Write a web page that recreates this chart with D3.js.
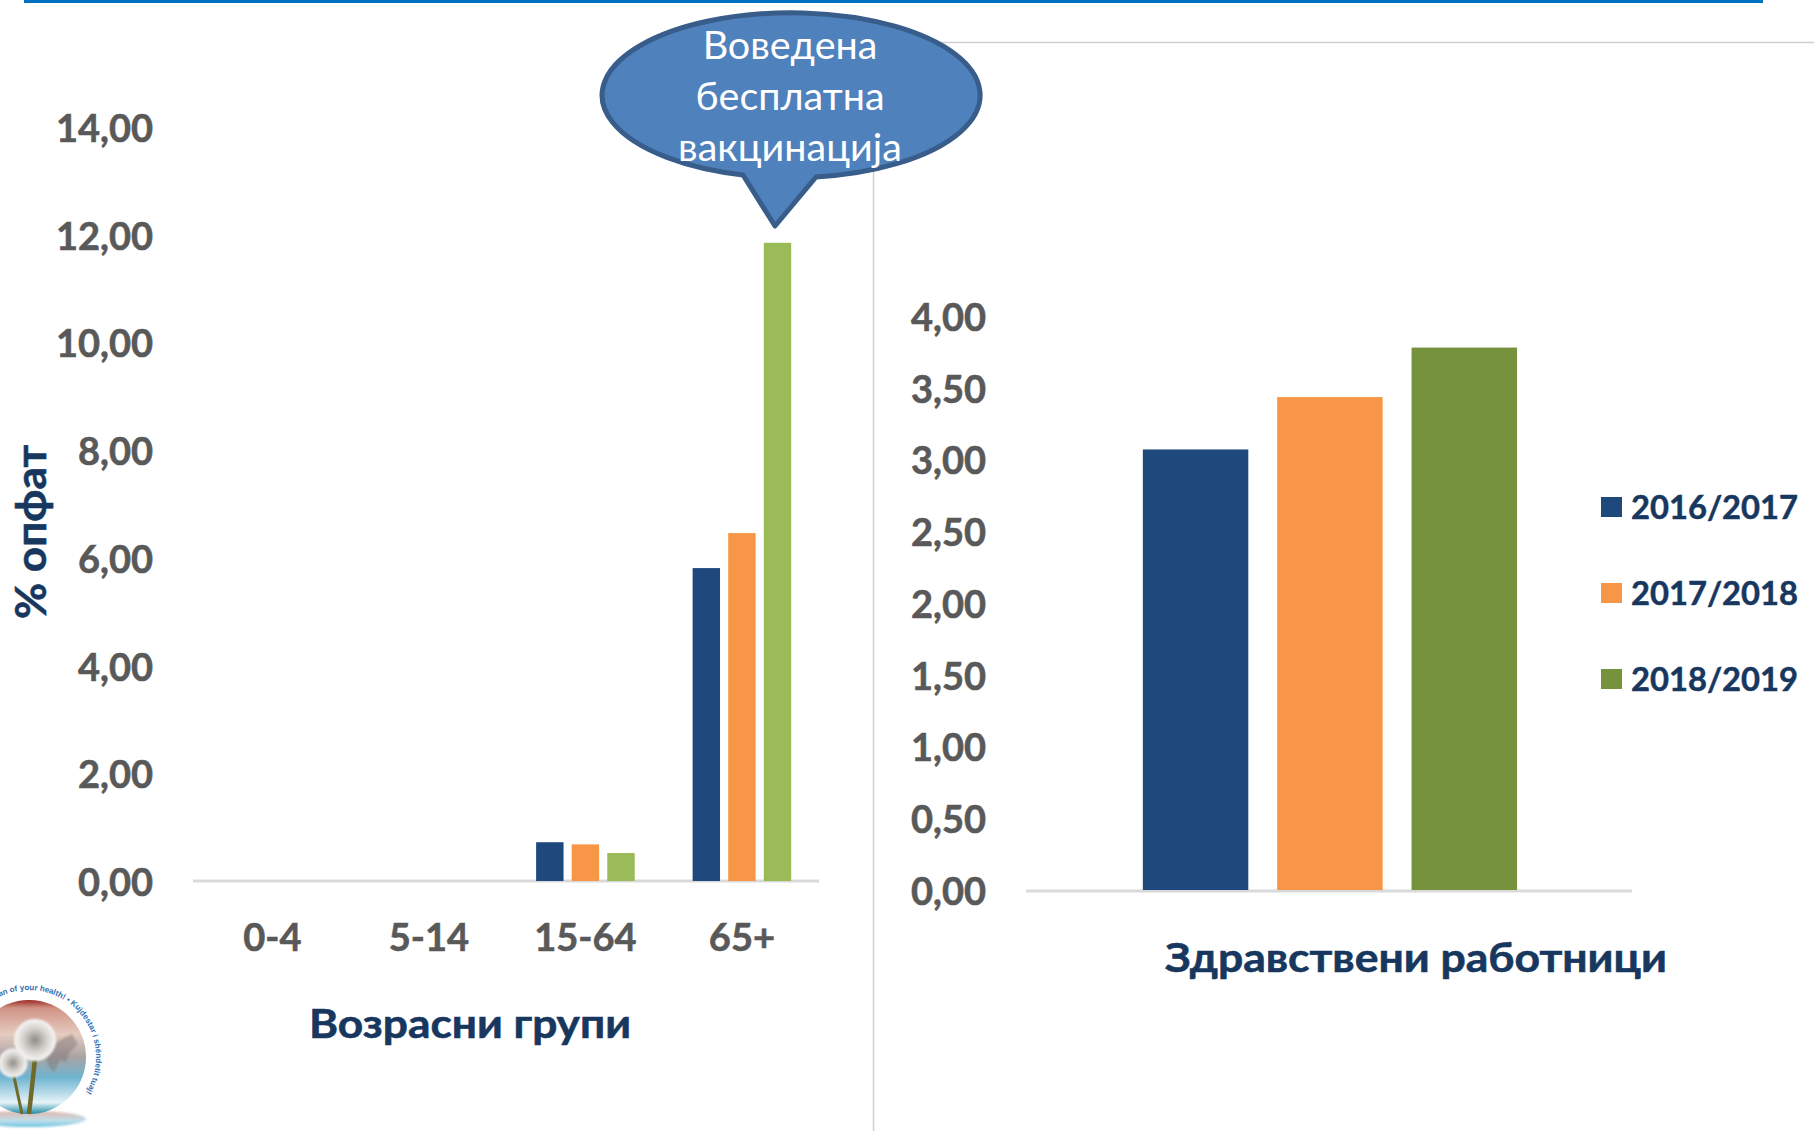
<!DOCTYPE html>
<html>
<head>
<meta charset="utf-8">
<title>Опфат со вакцинација</title>
<script src="https://cdn.jsdelivr.net/npm/d3@7"></script>
<style>
  html, body { margin: 0; padding: 0; background: #fff; }
  svg { display: block; }
  text { font-family: Lato, "Noto Sans", sans-serif; }
  .tick text { font-weight: 700; fill: #595959; font-size: 38px; stroke: #595959; stroke-width: 0.6px; }
  .axis-title { font-weight: 700; fill: #17375e; stroke: #17375e; stroke-width: 0.6px; }
  .legend-label { font-weight: 700; fill: #17375e; font-size: 33px; stroke: #17375e; stroke-width: 0.5px; }
  .callout-text { fill: #fff; font-size: 39.5px; text-anchor: middle; }
</style>
</head>
<body>
<svg id="chart" width="1814" height="1131"></svg>
<script>
  const SEASONS = ['2016/2017', '2017/2018', '2018/2019'];
  const AGE_GROUPS = ['0-4', '5-14', '15-64', '65+'];
  const AGE_2016 = [0, 0, 0.72, 5.81];
  const AGE_2017 = [0, 0, 0.68, 6.46];
  const AGE_2018 = [0, 0, 0.52, 11.85];
  const AGE_TICKS = [0, 2, 4, 6, 8, 10, 12, 14];
  const WORKER_GROUPS = ['Здравствени работници'];
  const WORKER_VALUES = [3.07, 3.435, 3.78];
  const WORKER_TICKS = [0, 0.5, 1, 1.5, 2, 2.5, 3, 3.5, 4];
  const CALLOUT_LINES = ['Воведена', 'бесплатна', 'вакцинација'];

  const AGE_COLORS = ['#1f497d', '#f79646', '#9bbb59'];
  const WORKER_COLORS = ['#1f497d', '#f79646', '#76923c'];
  const RULE_COLOR = '#d0d0d0';

  var svg = d3.select('#chart');
  var defs = svg.append('defs');
  var formatTick = function (v) { return d3.format('.2f')(v).replace('.', ','); };

  function drawFrame () {
    svg.append('rect').attr('x', 24).attr('y', 0).attr('width', 1739).attr('height', 3).attr('fill', '#0070c0');
    svg.append('line').attr('x1', 900).attr('x2', 1814).attr('y1', 42.5).attr('y2', 42.5)
      .attr('stroke', RULE_COLOR).attr('stroke-width', 1.5);
    svg.append('line').attr('x1', 873.5).attr('x2', 873.5).attr('y1', 150).attr('y2', 1131)
      .attr('stroke', RULE_COLOR).attr('stroke-width', 1.5);
  }

  function drawAxes (xAxisScale, yScale, ticks, baseline, showLabels) {
    var left = xAxisScale.range()[0];
    var right = xAxisScale.range()[1];
    svg.append('g')
      .attr('transform', 'translate(' + left + ',0)')
      .call(d3.axisLeft(yScale).tickValues(ticks).tickFormat(formatTick).tickSize(0).tickPadding(40))
      .call(function (g) {
        g.select('.domain').remove();
        g.selectAll('text').attr('dy', '0.38em');
      });
    var xAxis = d3.axisBottom(xAxisScale).tickSize(0).tickPadding(43);
    if (!showLabels) xAxis.tickFormat('');
    svg.append('g')
      .attr('transform', 'translate(0,' + baseline + ')')
      .call(xAxis)
      .call(function (g) {
        g.select('.domain').remove();
      });
    svg.append('line').attr('x1', left).attr('x2', right).attr('y1', baseline).attr('y2', baseline)
      .attr('stroke', '#d9d9d9').attr('stroke-width', 3);
  }

  function drawAgeChart () {
    const baseline = 881;
    var x0 = d3.scaleBand().domain(AGE_GROUPS).range([193, 819]).paddingInner(0.37).paddingOuter(0.185).align(0.52);
    var x1 = d3.scaleBand().domain(SEASONS).range([0, x0.bandwidth()]).paddingInner(0.229);
    var y = d3.scaleLinear().domain([0, 14]).range([baseline, 127]);
    drawAxes(x0, y, AGE_TICKS, baseline, true);

    [AGE_2016, AGE_2017, AGE_2018].forEach(function (values, s) {
      svg.append('g').selectAll('rect')
        .data(values)
        .join('rect')
        .attr('x', function (d, i) { return x0(AGE_GROUPS[i]) + x1(SEASONS[s]); })
        .attr('y', function (d) { return y(d); })
        .attr('width', x1.bandwidth())
        .attr('height', function (d) { return baseline - y(d); })
        .attr('fill', AGE_COLORS[s]);
    });

    svg.append('text').attr('class', 'axis-title')
      .attr('x', 470).attr('y', 1038)
      .attr('text-anchor', 'middle').attr('font-size', 41)
      .attr('textLength', 322).attr('lengthAdjust', 'spacingAndGlyphs')
      .text('Возрасни групи');
    svg.append('text').attr('class', 'axis-title')
      .attr('transform', 'translate(46,532) rotate(-90)')
      .attr('text-anchor', 'middle').attr('font-size', 42)
      .attr('textLength', 174).attr('lengthAdjust', 'spacingAndGlyphs')
      .text('% опфат');
  }

  function drawWorkerChart () {
    const baseline = 891;
    var x0 = d3.scaleBand().domain(WORKER_GROUPS).range([1026, 1632]).padding(0.2365).align(0.504);
    var x1 = d3.scaleBand().domain(SEASONS).range([0, x0.bandwidth()]).paddingInner(0.215);
    var y = d3.scaleLinear().domain([0, 4]).range([890, 316]);
    drawAxes(x0, y, WORKER_TICKS, baseline, false);

    svg.append('g').selectAll('rect')
      .data(WORKER_VALUES)
      .join('rect')
      .attr('x', function (d, i) { return x0(WORKER_GROUPS[0]) + x1(SEASONS[i]); })
      .attr('y', function (d) { return y(d); })
      .attr('width', x1.bandwidth())
      .attr('height', function (d) { return y(0) - y(d); })
      .attr('fill', function (d, i) { return WORKER_COLORS[i]; });

    svg.append('text').attr('class', 'axis-title')
      .attr('x', 1416).attr('y', 972)
      .attr('text-anchor', 'middle').attr('font-size', 41)
      .attr('textLength', 502).attr('lengthAdjust', 'spacingAndGlyphs')
      .text(WORKER_GROUPS[0]);

    var legend = svg.append('g').selectAll('g')
      .data(SEASONS)
      .join('g')
      .attr('transform', function (d, i) { return 'translate(1601,' + (497 + i * 86) + ')'; });
    legend.append('rect').attr('width', 21).attr('height', 20)
      .attr('fill', function (d, i) { return WORKER_COLORS[i]; });
    legend.append('text').attr('class', 'legend-label')
      .attr('x', 30).attr('y', 22)
      .attr('textLength', 167).attr('lengthAdjust', 'spacingAndGlyphs')
      .text(function (d) { return d; });
  }

  function drawCallout () {
    svg.append('path')
      .attr('d', 'M743,175 A189,82.5 0 1 1 816,177 L775,226 Z')
      .attr('fill', '#4f81bd').attr('stroke', '#385d8a').attr('stroke-width', 5)
      .attr('stroke-linejoin', 'round');
    svg.append('g').selectAll('text')
      .data(CALLOUT_LINES)
      .join('text')
      .attr('class', 'callout-text')
      .attr('x', 790)
      .attr('y', function (d, i) { return 59 + i * 51; })
      .text(function (d) { return d; });
  }

  // the round logo in the bottom left corner
  function drawLogo () {
    var glass = defs.append('linearGradient').attr('id', 'logo-glass')
      .attr('x1', 0).attr('x2', 0).attr('y1', 0).attr('y2', 1);
    [[0, '#9c2b25'], [0.07, '#cf9385'], [0.3, '#e6cbc0'], [0.5, '#a9a3a3'], [0.68, '#6fb4d0'], [0.9, '#e6f3f8'], [1, '#1f8aa6']]
      .forEach(function (s) { glass.append('stop').attr('offset', s[0]).attr('stop-color', s[1]); });
    var head = defs.append('radialGradient').attr('id', 'logo-head');
    [[0, '#8f8b86'], [0.55, '#d4d0cb'], [1, '#f8f8f8']]
      .forEach(function (s) { head.append('stop').attr('offset', s[0]).attr('stop-color', s[1]); });
    var saucer = defs.append('linearGradient').attr('id', 'logo-saucer')
      .attr('x1', 0).attr('x2', 0).attr('y1', 0).attr('y2', 1);
    [[0, '#e3b3a8'], [0.6, '#bfe0ec'], [1, '#6cc3de']]
      .forEach(function (s) { saucer.append('stop').attr('offset', s[0]).attr('stop-color', s[1]); });
    defs.append('filter').attr('id', 'logo-soft').append('feGaussianBlur').attr('stdDeviation', 1);

    var logo = svg.append('g');
    logo.append('ellipse').attr('cx', 28).attr('cy', 1119).attr('rx', 58).attr('ry', 8)
      .attr('fill', 'url(#logo-saucer)').attr('filter', 'url(#logo-soft)');
    logo.append('circle').attr('cx', 29).attr('cy', 1057).attr('r', 57).attr('fill', 'url(#logo-glass)');
    logo.append('path')
      .attr('d', 'M60,1040 l12,-6 l6,10 l-8,8 l-4,10 l-6,-2 l-6,12 l-6,-6 l-2,-14 Z')
      .attr('fill', '#7d7473').attr('opacity', 0.45).attr('filter', 'url(#logo-soft)');
    logo.append('path').attr('d', 'M36,1050 L29,1114').attr('stroke', '#6f6a2a').attr('stroke-width', 4.5).attr('fill', 'none');
    logo.append('path').attr('d', 'M13,1072 L22,1114').attr('stroke', '#6f6a2a').attr('stroke-width', 3).attr('fill', 'none');
    logo.append('circle').attr('cx', 35).attr('cy', 1040).attr('r', 21).attr('fill', 'url(#logo-head)').attr('filter', 'url(#logo-soft)');
    logo.append('circle').attr('cx', 13).attr('cy', 1063).attr('r', 14.5).attr('fill', 'url(#logo-head)').attr('filter', 'url(#logo-soft)');

    defs.append('path').attr('id', 'logo-ring').attr('d', 'M-38,1057 A67,67 0 1 1 85.8,1092.5');
    logo.append('text').attr('font-size', 8).attr('font-weight', 700).attr('fill', '#2f6db5')
      .attr('text-anchor', 'end')
      .style('font-family', '"Liberation Sans", sans-serif')
      .append('textPath').attr('href', '#logo-ring').attr('startOffset', '100%')
      .text('Guardian of your health!  •  Kujdestar i shëndetit tuaj!');
  }

  drawFrame();
  drawAgeChart();
  drawWorkerChart();
  drawCallout();
  drawLogo();
</script>
</body>
</html>
